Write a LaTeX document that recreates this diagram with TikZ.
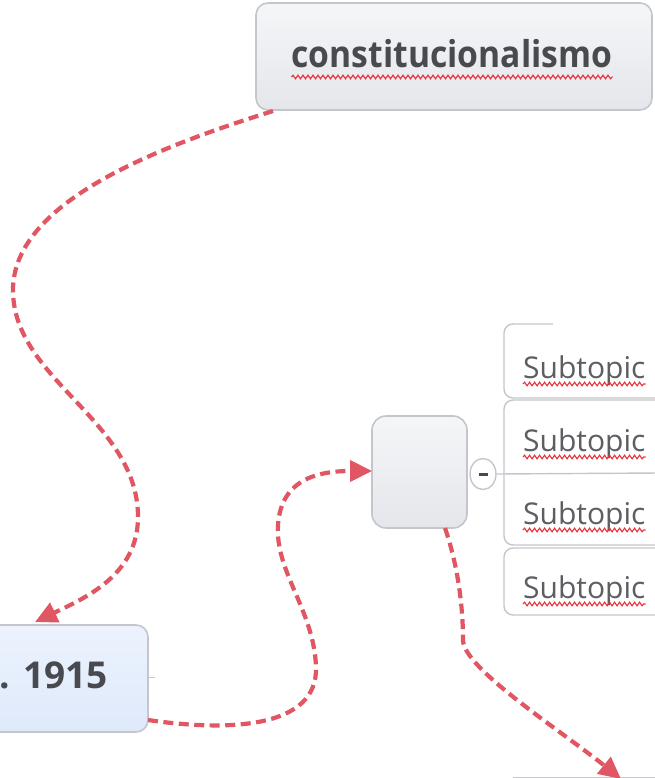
\documentclass[tikz,border=0pt]{standalone}
\usepackage{fontspec}
\setmainfont{Open Sans}
\newfontfamily\narrowsans[FakeStretch=0.91]{Open Sans}
\usetikzlibrary{arrows.meta,decorations.pathmorphing,shapes.geometric}

\definecolor{linkred}{RGB}{224,86,98}
\definecolor{boxline}{RGB}{196,198,204}
\definecolor{greytop}{RGB}{245,246,248}
\definecolor{greybot}{RGB}{228,230,235}
\definecolor{bluetop}{RGB}{236,243,254}
\definecolor{bluebot}{RGB}{222,233,250}
\definecolor{inkdark}{RGB}{72,74,80}
\definecolor{inkgrey}{RGB}{92,94,98}
\definecolor{spellred}{RGB}{232,50,60}

\tikzset{
  topicbox/.style={draw=boxline, line width=1.6pt, rounded corners=12pt,
    top color=greytop, bottom color=greybot, inner sep=0pt},
  bluebox/.style={draw=boxline, line width=1.6pt, rounded corners=12pt,
    top color=bluetop, bottom color=bluebot, inner sep=0pt},
  framel/.style={draw=boxline, line width=1.4pt},
  reltip/.style={-{Triangle[length=22pt,width=21pt]}},
  relation/.style={draw=linkred, line width=4.2pt, dash pattern=on 10pt off 5.5pt},
  spell/.style={draw=spellred, line width=1.1pt,
    decorate, decoration={snake, segment length=5pt, amplitude=1.8pt}},
  bigword/.style={font=\fontsize{37}{40}\selectfont\bfseries, text=inkdark, inner sep=0pt},
  subword/.style={font=\fontsize{30}{33}\selectfont, text=inkgrey, inner sep=0pt}
}

\begin{document}
\begin{tikzpicture}[x=1pt,y=-1pt]
\useasboundingbox (0,0) rectangle (654,778);

% main topic at the top
\node[topicbox, minimum width=396pt, minimum height=107pt] (root) at (454,56.5) {};
\node[bigword, font=\fontsize{37}{40}\narrowsans\bfseries, anchor=base] (rootlabel) at (452,68) {constitucionalismo};
\draw[spell] ([yshift=-9pt]rootlabel.base west) -- ([yshift=-9pt]rootlabel.base east);

% date topic, partly off the left edge
\node[bluebox, minimum width=210pt, minimum height=107pt] (year) at (43,678.5) {};
\node[bigword, anchor=base east] (yearlabel) at (108,688) {. 1915};
\coordinate (yearstub) at (155,677);
\draw[boxline, line width=1pt] (year.east |- yearstub) -- (yearstub);

% empty topic with its collapse button
\node[topicbox, rounded corners=14pt, minimum width=95pt, minimum height=112pt] (blank) at (419.5,472) {};
\node[draw=boxline, line width=1.4pt, fill=white, ellipse, minimum width=26pt,
      minimum height=31pt, inner sep=0pt] (fold) at (483,474) {};
\node[fill=inkdark, minimum width=9pt, minimum height=3pt, inner sep=0pt] (foldbar) at (fold.center) {};

% subtopic frames
\coordinate (s1top) at (553,324);
\coordinate (edge) at (660,0);
\draw[framel, rounded corners=9pt] (s1top) -- (504,324) -- (504,398) -- (edge |- 0,398);
\draw[framel, rounded corners=9pt] (660,400) -- (504,400) -- (504,545) -- (660,545);
\draw[framel, rounded corners=9pt] (660,548) -- (504,548) -- (504,615) -- (660,615);
\coordinate (branchend) at (660,473);
\draw[framel] (fold.east) -- (branchend);

% subtopic labels
\node[subword, anchor=base west] (sub1) at (523,378) {Subtopic};
\node[subword, anchor=base west] (sub2) at (523,451) {Subtopic};
\node[subword, anchor=base west] (sub3) at (523,524) {Subtopic};
\node[subword, anchor=base west] (sub4) at (523,598) {Subtopic};
\foreach \s in {sub1,sub2,sub3,sub4}
  \draw[spell] ([yshift=-6pt]\s.base west) -- ([yshift=-6pt]\s.base east);

% top edge of a topic below the page
\coordinate (lowleft) at (513,777);
\coordinate (lowright) at (660,777);
\draw[boxline, line width=1pt] (lowleft) -- (lowright);

% relationship lines
\coordinate (rootout) at (273,111);
\coordinate (yeartop) at (35,622);
\draw[relation, reltip] (rootout)
  .. controls (165,145) and (13,200) .. (13,290)
  .. controls (13,380) and (138,420) .. (138,517)
  .. controls (138,575) and (85,598) .. (yeartop);

\coordinate (yearout) at (148,720);
\coordinate (blankin) at (372,471);
\draw[relation, reltip] (yearout)
  .. controls (230,732) and (318,728) .. (316,667)
  .. controls (314,610) and (275,572) .. (278,525)
  .. controls (281,478) and (320,471) .. (blankin);

\coordinate (blankout) at (445,528);
\coordinate (lowtip) at (621,779);
\draw[relation, reltip] (blankout)
  .. controls (456,560) and (463,600) .. (463,640)
  .. controls (463,668) and (560,730) .. (lowtip);
\end{tikzpicture}
\end{document}
